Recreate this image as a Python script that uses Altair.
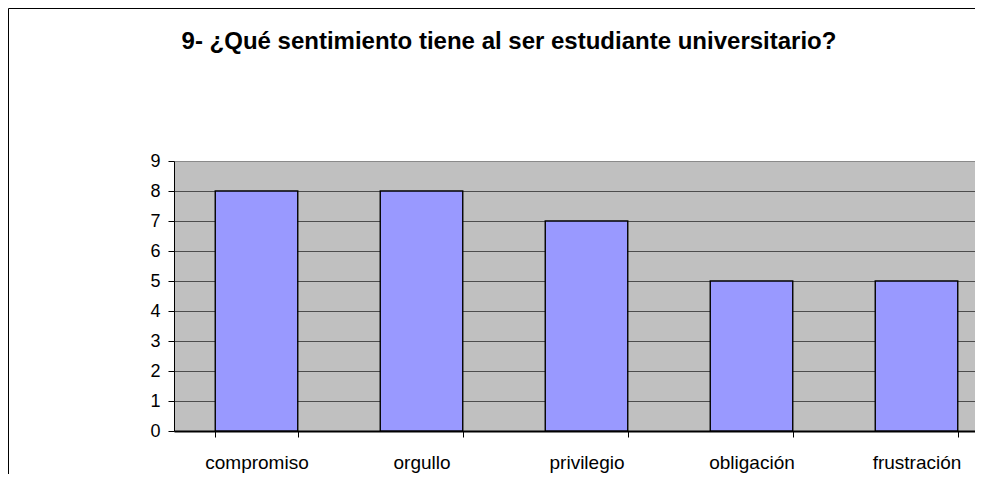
import altair as alt
import pandas as pd

title_text = ["9- ¿Qué sentimiento tiene al ser estudiante universitario?"]
categories = ["compromiso", "orgullo", "privilegio", "obligación", "frustración"]
values = [8, 8, 7, 5, 5]
y_ticks = list(range(0, 10))

df = pd.DataFrame({"categoria": categories, "valor": values})
title_df = pd.DataFrame({"t": title_text})

FONT = "Liberation Sans"

bars = alt.Chart(df).mark_bar(color="#9999FF", stroke="#000000", strokeWidth=1.4).encode(
    x=alt.X(
        "categoria:N",
        sort=categories,
        scale=alt.Scale(range=[0, 825], paddingInner=0.5, paddingOuter=0.25),
        axis=alt.Axis(
            title=None, labelAngle=0, tickBand="extent", ticks=True, tickSize=6,
            tickColor="#000000", domainColor="#000000", domainWidth=2,
            labelFontSize=19, labelPadding=16, labelColor="#000000", labelFont=FONT,
            grid=False,
        ),
    ),
    y=alt.Y(
        "valor:Q",
        scale=alt.Scale(domain=[0, 9], nice=False),
        axis=alt.Axis(
            title=None, values=y_ticks, grid=True,
            gridColor={"condition": {"test": "datum.value === 9", "value": "#8a8a8a"}, "value": "#4d4d4d"},
            gridWidth=1,
            tickSize=6, tickColor="#000000", domainColor="#000000",
            labelFontSize=18, labelPadding=8, labelColor="#000000", labelFont=FONT,
        ),
    ),
)

title = alt.Chart(title_df).mark_text(
    font=FONT, fontSize=24, fontWeight="bold", align="center",
    baseline="alphabetic", color="#000000",
).encode(text="t:N", x=alt.value(335), y=alt.value(-112))

frame_left = alt.Chart(title_df).mark_rule(color="#000000", strokeWidth=1).encode(
    x=alt.value(-165.5), y=alt.value(-152.5), y2=alt.value(340)
)
frame_top = alt.Chart(title_df).mark_rule(color="#000000", strokeWidth=1).encode(
    x=alt.value(-165.5), x2=alt.value(830), y=alt.value(-152.5)
)

chart = alt.layer(bars, title, frame_left, frame_top).properties(
    width=801,
    height=270,
    autosize=alt.AutoSizeParams(type="none"),
    padding={"left": 166, "top": 153, "right": 0, "bottom": 43},
    background="#ffffff",
).configure_view(stroke="transparent", fill="#C0C0C0")

chart.save("out.html", embed_options={"renderer": "svg", "actions": False})
